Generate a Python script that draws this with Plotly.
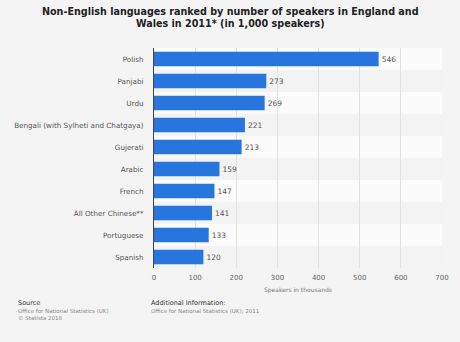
import plotly.graph_objects as go

languages = ["Polish", "Panjabi", "Urdu", "Bengali (with Sylheti and Chatgaya)",
             "Gujerati", "Arabic", "French", "All Other Chinese**",
             "Portuguese", "Spanish"]
speakers = [546, 273, 269, 221, 213, 159, 147, 141, 133, 120]
x_ticks = [0, 100, 200, 300, 400, 500, 600, 700]

BAR = "#2876dd"
PAGE = "#f4f4f4"
W, H = 460, 342
ML, MR, MT, MB = 154, 18, 48, 74

fig = go.Figure(go.Bar(
    x=speakers, y=languages, orientation="h",
    marker=dict(color=BAR, line=dict(width=0)),
    width=0.66,
    text=[str(v) for v in speakers], textposition="outside",
    textfont=dict(family="DejaVu Sans", size=7.5, color="#555555"),
    cliponaxis=False,
))

# alternating row bands behind the bars
shapes = []
for i, _ in enumerate(languages):
    shapes.append(dict(
        type="rect", xref="paper", yref="y", layer="below",
        x0=0, x1=1, y0=i - 0.5, y1=i + 0.5,
        fillcolor="#fbfbfb" if i % 2 == 0 else "#f3f3f3", line=dict(width=0),
    ))

pw = W - ML - MR
ph = H - MT - MB


def px(x, y):
    """Page pixel position -> paper coordinates."""
    return (x - ML) / pw, (H - MB - y) / ph


anns = []
tx, ty = px(W / 2, 18)
anns.append(dict(
    text="<b>Non-English languages ranked by number of speakers in England and<br>Wales in 2011* (in 1,000 speakers)</b>",
    x=tx, y=ty, xref="paper", yref="paper", xanchor="center", yanchor="middle",
    showarrow=False, align="center",
    font=dict(family="DejaVu Sans", size=9.6, color="#222222"),
))

footer = [
    ("Source", 16, 303, 6.5, "#333333"),
    ("Office for National Statistics (UK)", 16, 311, 5.5, "#8a8a8a"),
    ("© Statista 2018", 16, 318, 5.5, "#8a8a8a"),
    ("Additional Information:", 149, 303, 6.5, "#333333"),
    ("Office for National Statistics (UK); 2011", 149, 311, 5.5, "#8a8a8a"),
]
for txt, x, y, size, col in footer:
    ax, ay = px(x, y)
    anns.append(dict(text=txt, x=ax, y=ay, xref="paper", yref="paper",
                     xanchor="left", yanchor="middle", showarrow=False,
                     font=dict(family="DejaVu Sans", size=size, color=col)))

fig.update_layout(
    width=W, height=H,
    margin=dict(l=ML, r=MR, t=MT, b=MB, autoexpand=False),
    paper_bgcolor=PAGE, plot_bgcolor=PAGE,
    showlegend=False,
    shapes=shapes,
    annotations=anns,
    xaxis=dict(
        range=[0, 700], tickvals=x_ticks, ticktext=[str(t) for t in x_ticks],
        showgrid=True, gridcolor="#e2e2e2", gridwidth=1, zeroline=False,
        tickfont=dict(family="DejaVu Sans", size=7, color="#666666"),
        ticks="", ticklabelstandoff=4, automargin=False,
        title=dict(text="Speakers in thousands", standoff=6,
                   font=dict(family="DejaVu Sans", size=6, color="#777777")),
        layer="below traces",
    ),
    yaxis=dict(
        autorange="reversed", showgrid=False, zeroline=False,
        showline=True, linecolor="#444444", linewidth=1,
        tickfont=dict(family="DejaVu Sans", size=7.2, color="#555555"),
        ticks="", ticklabelstandoff=8, automargin=False,
    ),
)

fig.write_html("out.html")
